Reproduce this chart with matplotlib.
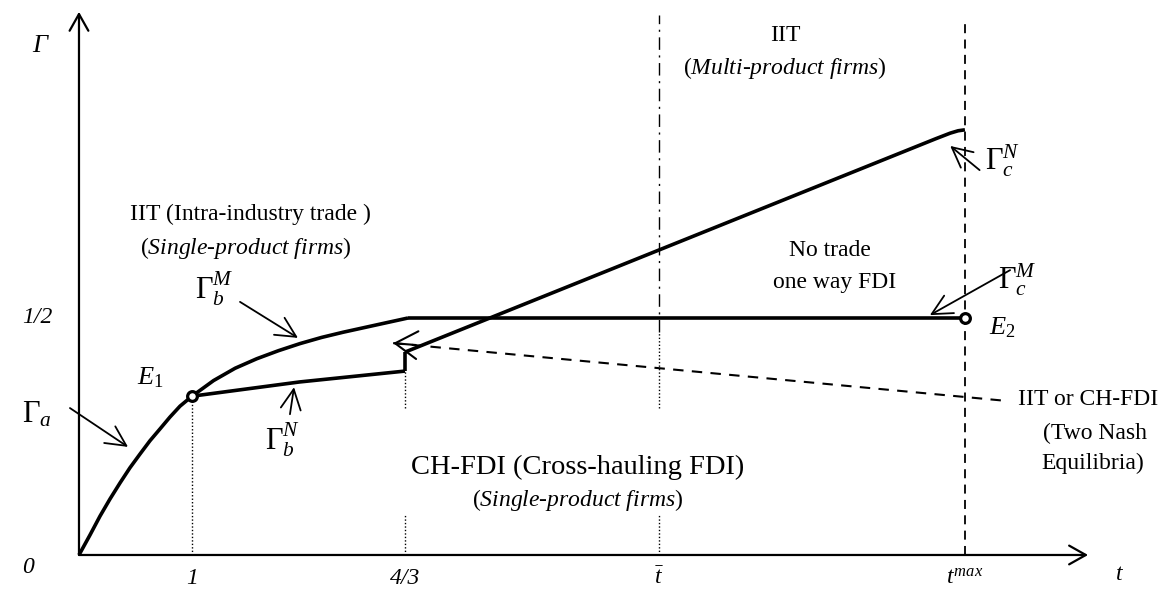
import numpy as np
import matplotlib
matplotlib.use("Agg")
import matplotlib.pyplot as plt

plt.rcParams['font.family'] = ['Liberation Serif', 'DejaVu Serif']
plt.rcParams['mathtext.fontset'] = 'custom'
plt.rcParams['mathtext.rm'] = 'Liberation Serif'
plt.rcParams['mathtext.it'] = 'Liberation Serif:italic'
plt.rcParams['mathtext.bf'] = 'Liberation Serif:bold'

# schematic data (t on x, Gamma on y)
t_ticks = [1.0, 2.885, 5.13, 7.84]
t_labels = ['1', '4/3', r'$\bar{t}$', r'$t^{max}$']
gamma_half = 0.5

gamma_a_t = [0.0, 0.097, 0.186, 0.274, 0.363, 0.451, 0.540, 0.628, 0.717, 0.805, 0.894, 1.0]
gamma_a_y = [0.0, 0.042, 0.082, 0.118, 0.152, 0.184, 0.213, 0.241, 0.266, 0.291, 0.314, 0.335]

gamma_bM_t = [1.0, 1.191, 1.382, 1.573, 1.765, 1.956, 2.147, 2.338, 2.529, 2.720, 2.912]
gamma_bM_y = [0.335, 0.368, 0.394, 0.414, 0.431, 0.446, 0.459, 0.470, 0.480, 0.490, 0.5]

gamma_bN_t = [1.0, 1.95, 2.885]
gamma_bN_y = [0.335, 0.365, 0.388]

jump_t = [2.885, 2.885]
jump_y = [0.388, 0.428]

gamma_cN_t = [2.885, 7.58, 7.71, 7.78, 7.84]
gamma_cN_y = [0.428, 0.878, 0.890, 0.895, 0.897]

gamma_cM_t = [2.912, 7.84]
gamma_cM_y = [0.5, 0.5]

nash_t = [2.78, 8.21]
nash_y = [0.447, 0.325]

E1 = (1.0, 0.335)
E2 = (7.84, 0.5)

fig = plt.figure(figsize=(11.7, 6.03), dpi=100)
ax = fig.add_axes([0, 0, 1, 1])
ax.set_xlim(-0.699, 9.655)
ax.set_ylim(-0.1013, 1.1709)
ax.axis('off')

# axes with open arrow heads
axis_kw = dict(arrowstyle='->,head_length=0.8,head_width=0.45', lw=1.6, color='black',
               shrinkA=0, shrinkB=0, mutation_scale=15)
ax.annotate('', xy=(8.93, 0), xytext=(0, 0), arrowprops=axis_kw, annotation_clip=False)
ax.annotate('', xy=(0, 1.146), xytext=(0, 0), arrowprops=axis_kw, annotation_clip=False)

# vertical guide lines
dot = (0, (1, 1.5))
ax.plot([t_ticks[0]] * 2, [0, E1[1]], color='black', lw=1.0, ls=dot)
ax.plot([t_ticks[1]] * 2, [0.31, jump_y[0]], color='black', lw=1.0, ls=dot)
ax.plot([t_ticks[1]] * 2, [0, 0.084], color='black', lw=1.0, ls=dot)
ax.plot([t_ticks[2]] * 2, [0.47, 1.139], color='black', lw=1.0, ls=(0, (9, 4, 1.5, 4)))
ax.plot([t_ticks[2]] * 2, [0.31, 0.47], color='black', lw=1.0, ls=dot)
ax.plot([t_ticks[2]] * 2, [0, 0.084], color='black', lw=1.0, ls=dot)
ax.plot([t_ticks[3]] * 2, [0, 1.13], color='black', lw=1.3, ls=(0, (5, 3.5)))

# curves
lw_main = 2.6
for xs, ys in [(gamma_a_t, gamma_a_y), (gamma_bM_t, gamma_bM_y), (gamma_bN_t, gamma_bN_y),
               (jump_t, jump_y), (gamma_cN_t, gamma_cN_y), (gamma_cM_t, gamma_cM_y)]:
    ax.plot(xs, ys, color='black', lw=lw_main, solid_joinstyle='round', solid_capstyle='butt')

# two-Nash boundary (dashed, open head at the left end)
ax.plot(nash_t, nash_y, color='black', lw=1.5, ls=(0, (5, 4)))
ax.annotate('', xy=(nash_t[0], nash_y[0]), xytext=(nash_t[0] + 0.2, nash_y[0] - 0.004),
            arrowprops=dict(arrowstyle='->,head_length=0.8,head_width=0.5', lw=1.5,
                            color='black', shrinkA=0, shrinkB=0, mutation_scale=20))

# equilibrium points
for p in (E1, E2):
    ax.plot(p[0], p[1], marker='o', ms=7, mfc='white', mec='black', mew=2.3, zorder=5)

# tick labels
fs = 17
for t, lab in zip(t_ticks, t_labels):
    ax.text(t, -0.049, lab, fontsize=fs, style='italic', ha='center', va='center')
ax.text(9.21, -0.042, 't', fontsize=fs, style='italic', ha='center', va='center')
ax.text(-0.45, -0.027, '0', fontsize=fs, style='italic', ha='center', va='center')
ax.text(-0.372, gamma_half, '1/2', fontsize=fs, style='italic', ha='center', va='center')
ax.text(-0.345, 1.074, 'Γ', fontsize=fs + 2, style='italic', ha='center', va='center')

# curve labels with arrows
arrow_kw = dict(arrowstyle='->,head_length=0.6,head_width=0.3', lw=1.3, color='black',
                shrinkA=0, shrinkB=0, mutation_scale=24)
gs = 22
ax.text(-0.37, 0.295, r'$\Gamma_a$', fontsize=gs, ha='center', va='center')
ax.annotate('', xy=(0.434, 0.228), xytext=(-0.08, 0.310), arrowprops=arrow_kw)

ax.text(1.2, 0.562, r'$\Gamma_b^M$', fontsize=gs, ha='center', va='center')
ax.annotate('', xy=(1.938, 0.458), xytext=(1.425, 0.534), arrowprops=arrow_kw)

ax.text(1.805, 0.243, r'$\Gamma_b^N$', fontsize=gs, ha='center', va='center')
ax.annotate('', xy=(1.903, 0.354), xytext=(1.867, 0.297), arrowprops=arrow_kw)

ax.text(8.17, 0.833, r'$\Gamma_c^N$', fontsize=gs, ha='center', va='center')
ax.annotate('', xy=(7.71, 0.863), xytext=(7.97, 0.812), arrowprops=arrow_kw)

ax.text(8.30, 0.580, r'$\Gamma_c^M$', fontsize=gs, ha='center', va='center')
ax.annotate('', xy=(7.53, 0.506), xytext=(8.24, 0.601), arrowprops=arrow_kw)

ax.text(0.628, 0.373, r'$E_{\mathit{1}}$', fontsize=19, ha='center', va='center')
ax.text(8.17, 0.479, r'$E_{\mathit{2}}$', fontsize=19, ha='center', va='center')

# region labels
ax.text(0.451, 0.719, 'IIT (Intra-industry trade )', fontsize=fs, ha='left', va='center')
ax.text(0.54, 0.648, r'($\mathit{Single}$-$\mathit{product\ firms}$)', fontsize=fs,
        ha='left', va='center')

ax.text(4.416, 0.184, 'CH-FDI (Cross-hauling FDI)', fontsize=20.5, ha='center', va='center')
ax.text(4.416, 0.116, r'($\mathit{Single}$-$\mathit{product\ firms}$)', fontsize=fs,
        ha='center', va='center')

ax.text(6.248, 1.097, 'IIT', fontsize=fs, ha='center', va='center')
ax.text(6.248, 1.027, r'($\mathit{Multi}$-$\mathit{product\ firms}$)', fontsize=fs,
        ha='center', va='center')

ax.text(6.646, 0.643, 'No trade', fontsize=fs, ha='center', va='center')
ax.text(6.69, 0.574, 'one way FDI', fontsize=fs, ha='center', va='center')

fs2 = 17
ax.text(8.93, 0.327, 'IIT or CH-FDI', fontsize=fs2, ha='center', va='center')
ax.text(8.99, 0.257, '(Two Nash', fontsize=fs2, ha='center', va='center')
ax.text(8.97, 0.194, 'Equilibria)', fontsize=fs2, ha='center', va='center')

fig.savefig('out.png', dpi=100)
